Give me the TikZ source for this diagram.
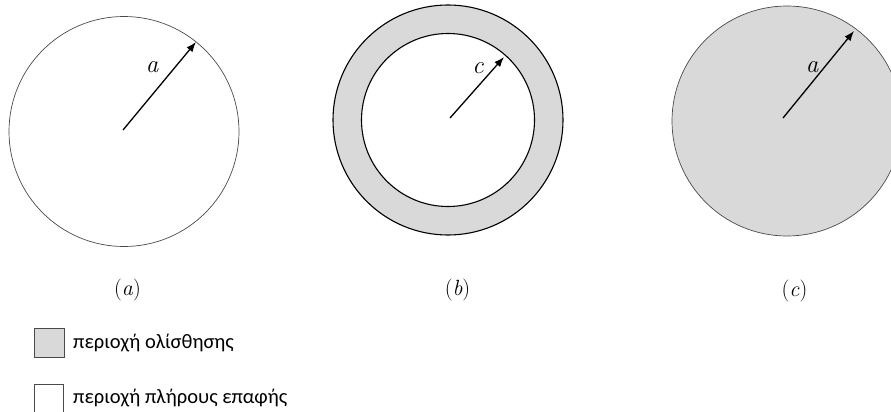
\documentclass[tikz,border=0pt]{standalone}
\usepackage{fontspec}
\newfontfamily\legfont{Carlito}
\usetikzlibrary{arrows.meta}
\definecolor{slipgray}{HTML}{D9D9D9}
\definecolor{thinedge}{HTML}{4A4A4A}
\tikzset{
  disc/.style={circle, inner sep=0pt, minimum size=#1},
  thinring/.style={draw=thinedge, line width=0.7pt},
  boldring/.style={draw=black, line width=1.1pt},
  radius arrow/.style={line width=1.3pt, -{Latex[length=10pt,width=7.5pt]}},
  rlabel/.style={font=\fontsize{25}{27}\selectfont\itshape, inner sep=0pt},
  caption/.style={font=\fontsize{22}{24}\selectfont, inner sep=0pt},
  legbox/.style={draw=thinedge, line width=0.8pt},
  legtext/.style={font=\legfont\fontsize{20.5}{24}\selectfont, anchor=base west, inner sep=0pt}
}
\begin{document}
\begin{tikzpicture}[x=1pt,y=-1pt]
\useasboundingbox (0,0) rectangle (891,412);
% (a) full contact
\node[disc=230pt, thinring, fill=white] (A) at (124,131.5) {};
\coordinate (Ac) at (123,130);
\coordinate (At) at (196,42);
\draw[radius arrow] (Ac) -- (At);
\node[rlabel] (la) at (152,67) {a};
% (b) annulus
\node[disc=230pt, boldring, fill=slipgray] (B) at (448,120) {};
\node[disc=173pt, boldring, fill=white] (Bi) at (448,120) {};
\coordinate (Bc) at (450,118);
\coordinate (Bt) at (504,57);
\draw[radius arrow] (Bc) -- (Bt);
\node[rlabel] (lc) at (478,68) {c};
% (c) full slip
\node[disc=230pt, thinring, fill=slipgray] (C) at (787,121) {};
\coordinate (Cc) at (783,118);
\coordinate (Ct) at (854,31);
\draw[radius arrow] (Cc) -- (Ct);
\node[rlabel] (lc2) at (812,67) {a};
% captions
\node[caption] (capa) at (127.5,290) {(\textit{a})};
\node[caption] (capb) at (457.5,290) {(\textit{b})};
\node[caption] (capc) at (794.5,291) {(\textit{c})};
% legend
\node[legbox, fill=slipgray, minimum width=30pt, minimum height=29pt, inner sep=0pt, anchor=north west] (k1) at (33.5,328) {};
\node[legtext] (t1) at (73,348) {περιοχή ολίσθησης};
\node[legbox, fill=white, minimum width=29pt, minimum height=29pt, inner sep=0pt, anchor=north west] (k2) at (33.5,384) {};
\node[legtext] (t2) at (73,403) {περιοχή πλήρους επαφής};
\end{tikzpicture}
\end{document}
